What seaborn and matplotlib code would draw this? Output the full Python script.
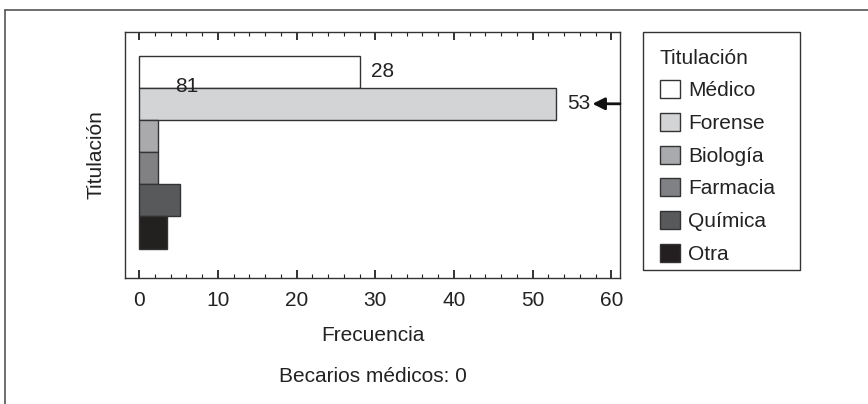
import matplotlib
matplotlib.use("Agg")
import matplotlib.pyplot as plt
import matplotlib.patches as mpatches
from matplotlib.lines import Line2D
from matplotlib.ticker import MultipleLocator
import pandas as pd
import seaborn as sns

# Datos
titulaciones = ["Médico", "Forense", "Biología", "Farmacia", "Química", "Otra"]
frecuencias = [28, 53, 2.4, 2.4, 5.2, 3.5]
colores = ["#ffffff", "#d3d4d6", "#a9aaad", "#808184", "#58595b", "#231f20"]
etiquetas = {"Médico": "28", "Forense": "53"}
becarios_medicos = 0

df = pd.DataFrame({"Titulación": titulaciones, "Frecuencia": frecuencias})

sns.set_style("ticks")
plt.rcParams["font.family"] = ["Liberation Sans", "DejaVu Sans"]
fs = 15

fig = plt.figure(figsize=(8.68, 4.04), dpi=100)
ax = fig.add_axes([125 / 868, 1 - 278 / 404, 495 / 868, 246 / 404])

sns.barplot(data=df, x="Frecuencia", y="Titulación", hue="Titulación",
            palette=colores, width=1.0, edgecolor="#333333", linewidth=1.0,
            legend=False, ax=ax)

ax.set_xlim(-1.8, 61.1)
ax.set_ylim(6.41, -1.23)
ax.set_yticks([])
ax.set_ylabel("Titulación", fontsize=fs, labelpad=14, color="#222222")
ax.set_xlabel("Frecuencia", fontsize=fs, labelpad=12, color="#222222")
ax.xaxis.set_major_locator(MultipleLocator(10))
ax.xaxis.set_minor_locator(MultipleLocator(2))
ax.tick_params(axis="x", which="both", direction="in", top=True, bottom=True,
               color="#222222", labelsize=fs, pad=9, labelcolor="#222222")
ax.tick_params(axis="x", which="major", length=6, width=1.3)
ax.tick_params(axis="x", which="minor", length=3, width=0.8)
for s in ax.spines.values():
    s.set_visible(True)
    s.set_color("#333333")
    s.set_linewidth(1.0)

# etiquetas de valores
for i, t in enumerate(titulaciones):
    if t in etiquetas:
        ax.text(frecuencias[i] + 1.4, i, etiquetas[t], va="center", ha="left",
                fontsize=fs, color="#222222")
total = frecuencias[0] + frecuencias[1]
ax.text(6.1, 0.45, f"{total:.0f}", ha="center", va="center", fontsize=fs, color="#222222")
ax.annotate("", xy=(57.6, 1), xytext=(61.1, 1),
            arrowprops=dict(arrowstyle="-|>", color="#111111", lw=2.0,
                            mutation_scale=18, shrinkA=0, shrinkB=0),
            annotation_clip=False)

fig.text(373 / 868, 1 - 376 / 404, f"Becarios médicos: {becarios_medicos}",
         ha="center", va="center", fontsize=fs, color="#222222")

# leyenda (sin marco; el recuadro se dibuja aparte)
handles = [mpatches.Patch(facecolor=c, edgecolor="#333333", linewidth=1.0, label=t)
           for t, c in zip(titulaciones, colores)]
leg = ax.legend(handles=handles, title="Titulación", loc="upper left",
                bbox_to_anchor=(643 / 868, 1 - 32 / 404), bbox_transform=fig.transFigure,
                borderaxespad=0, frameon=False,
                fontsize=fs, title_fontsize=fs, handlelength=0.96, handleheight=0.96,
                handletextpad=0.4, labelspacing=0.6, borderpad=0.8,
                alignment="left")
for txt in leg.get_texts():
    txt.set_color("#222222")
leg.get_title().set_color("#222222")
fig.add_artist(mpatches.Rectangle((643 / 868, 1 - 270 / 404), 157 / 868, 238 / 404,
                                  transform=fig.transFigure, fill=False,
                                  edgecolor="#333333", linewidth=1.0))

# marco exterior
fig.add_artist(Line2D([5 / 868, 1.0], [1 - 10 / 404, 1 - 10 / 404],
                      transform=fig.transFigure, color="#555555", lw=1.2))
fig.add_artist(Line2D([5 / 868, 5 / 868], [0, 1 - 10 / 404],
                      transform=fig.transFigure, color="#555555", lw=1.2))

fig.savefig("out.png", dpi=100, facecolor="white")
